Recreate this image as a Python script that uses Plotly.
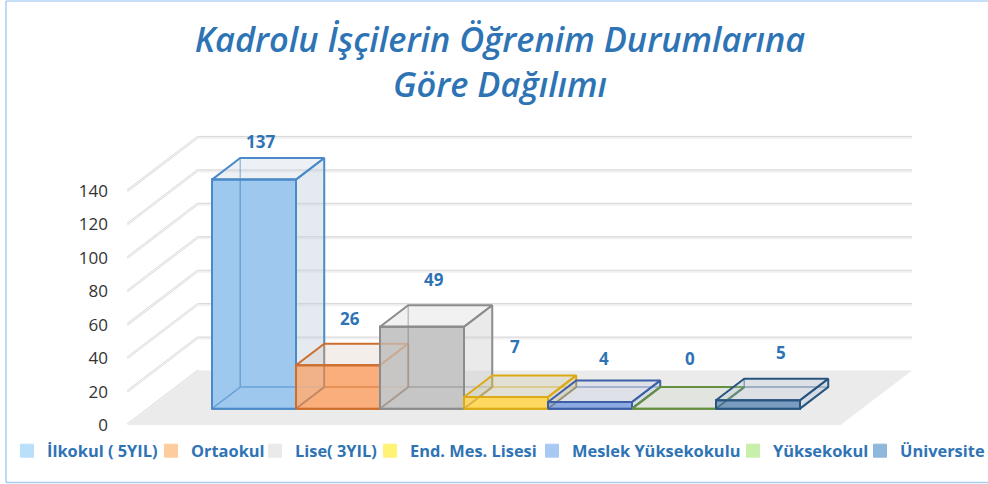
import plotly.graph_objects as go

# ---- data ----
categories = ["İlkokul ( 5YIL)", "Ortaokul", "Lise( 3YIL)", "End. Mes. Lisesi",
              "Meslek Yüksekokulu", "Yüksekokul", "Üniversite"]
values = [137, 26, 49, 7, 4, 0, 5]
y_ticks = [0, 20, 40, 60, 80, 100, 120, 140]

# ---- style ----
front_colors = ["#9fc8ef", "#f9ae7c", "#c6c6c6", "#ffd95f", "#8daae1", "#e2e6de", "#7b9cc0"]
front_rgb = ["159,200,239", "249,174,124", "198,198,198", "255,217,95",
             "141,170,225", "226,230,222", "123,156,192"]
edge_colors = ["#4a8ac8", "#cd6e2d", "#8c8c8c", "#dcaa14", "#3c5fa5", "#64913f", "#28557f"]
legend_colors = ["#b8e0fb", "#fdcb9d", "#eaeaea", "#fff275", "#a9c9f5", "#c8f0aa", "#8fb8dd"]
face_rgb = ["190,205,220", "215,195,180", "205,205,205", "205,195,150",
            "190,200,225", "205,215,195", "185,200,220"]
title_blue = "#2e74b5"
text_left = [47, 191, 295, 410, 572, 773, 900]      # legend text start, px
label_dx = [-22, -16, -16, -19, -14, -12, -5]       # data-label nudge, px
label_dy = [17, 25, 26, 29, 22, 29, 26]             # data-label lift, px

W, H = 988, 484
PX_L, PX_R, PX_T, PX_B = 127, 912, 125, 425
PX_PER_CAT = 84.0
PX_PER_UNIT = 1.672
X0 = (PX_L - 254) / PX_PER_CAT
X1 = (PX_R - 254) / PX_PER_CAT
Y1 = (PX_B - PX_T) / PX_PER_UNIT
DX, DY = 71.5 / PX_PER_CAT, 54.5 / PX_PER_UNIT   # oblique vector of the floor depth
D_FRONT, D_BACK = 0.30, 0.695


def proj(x, v, d):
    """Oblique projection: bar x (at the bar front plane), value, depth."""
    return x + DX * (d - D_FRONT), v + DY * d


fig = go.Figure()
shapes = []


def seg(x0, y0, x1, y1, color, width):
    shapes.append(dict(type="line", xref="x", yref="y", layer="below", x0=x0, y0=y0, x1=x1, y1=y1,
                       line=dict(color=color, width=width)))


# walls' gridlines: a soft band with a thin line along its upper edge
BAND = 1.3 / PX_PER_UNIT
for t in y_ticks:
    seg(X0, t, X0 + DX, t + DY, "#dedede", 2.5)
    seg(X0, t, X0 + DX, t + DY, "#f6f6f6", 1)
    if t > 0:
        seg(X0 + DX, t + DY - BAND, X1, t + DY - BAND, "#f1f1f1", 2.5)
        seg(X0 + DX, t + DY, X1, t + DY, "#d6d6d6", 1)
# floor
shapes.append(dict(type="path", xref="x", yref="y", layer="below",
                   path=f"M{X0},0 L{X0 + DX},{DY} L{X1},{DY} L{X1 - DX},0 Z",
                   fillcolor="#ebebeb", line=dict(width=0)))

# front faces
fig.add_trace(go.Bar(x=list(range(len(values))), y=values, base=DY * D_FRONT, width=1,
                     marker=dict(color=front_colors, line=dict(color=edge_colors, width=2)),
                     showlegend=False, hoverinfo="skip"))

# depth faces
for i, v in enumerate(values):
    l, r = i - 0.5, i + 0.5
    rgb, edge = face_rgb[i], edge_colors[i]
    # translucent veil of this bar's front, so the previous bar's faces sit behind it
    if v > 0:
        pts = [proj(l, 0, D_FRONT), proj(r, 0, D_FRONT), proj(r, v, D_FRONT), proj(l, v, D_FRONT), proj(l, 0, D_FRONT)]
        fig.add_trace(go.Scatter(x=[p[0] for p in pts], y=[p[1] for p in pts], mode="lines", fill="toself",
                                 fillcolor=f"rgba({front_rgb[i]},0.7)", line=dict(color=edge, width=2),
                                 showlegend=False, hoverinfo="skip"))
    # hidden edges
    hx, hy = [], []
    for a, b in [((l, 0, D_FRONT), (l, 0, D_BACK)), ((r, 0, D_FRONT), (r, 0, D_BACK)),
                 ((l, 0, D_BACK), (r, 0, D_BACK)), ((l, 0, D_BACK), (l, v, D_BACK))]:
        pa, pb = proj(*a), proj(*b)
        hx += [pa[0], pb[0], None]
        hy += [pa[1], pb[1], None]
    fig.add_trace(go.Scatter(x=hx, y=hy, mode="lines", line=dict(color=edge, width=1.5),
                             opacity=0.6, showlegend=False, hoverinfo="skip"))
    # side face
    pts = [proj(r, 0, D_FRONT), proj(r, 0, D_BACK), proj(r, v, D_BACK), proj(r, v, D_FRONT), proj(r, 0, D_FRONT)]
    fig.add_trace(go.Scatter(x=[p[0] for p in pts], y=[p[1] for p in pts], mode="lines", fill="toself",
                             fillcolor=f"rgba({rgb},0.42)", line=dict(color=edge, width=2),
                             showlegend=False, hoverinfo="skip"))
    # top face
    pts = [proj(l, v, D_FRONT), proj(r, v, D_FRONT), proj(r, v, D_BACK), proj(l, v, D_BACK), proj(l, v, D_FRONT)]
    fig.add_trace(go.Scatter(x=[p[0] for p in pts], y=[p[1] for p in pts], mode="lines", fill="toself",
                             fillcolor=f"rgba({rgb},0.28)", line=dict(color=edge, width=2),
                             showlegend=False, hoverinfo="skip"))

# legend entries, each in its own legend so the spacing can follow the reference
layout_legends = {}
for i, name in enumerate(categories):
    key = "legend" if i == 0 else f"legend{i + 1}"
    fig.add_trace(go.Scatter(x=[None], y=[None], name=name, legend=key, mode="markers",
                             marker=dict(symbol="square", size=13, color=legend_colors[i],
                                         line=dict(color=legend_colors[i], width=1))))
    layout_legends[key] = dict(xref="paper", yref="paper",
                               x=(text_left[i] - 40 - PX_L) / (PX_R - PX_L),
                               y=(PX_B - 451) / (PX_B - PX_T),
                               xanchor="left", yanchor="middle",
                               bgcolor="rgba(0,0,0,0)", borderwidth=0,
                               font=dict(family="Open Sans", size=16.4, weight="bold", color=title_blue))

# data labels
annotations = []
for i, v in enumerate(values):
    px_, py_ = proj(i, v, D_BACK)
    annotations.append(dict(x=px_, y=py_, xref="x", yref="y", text=str(v), showarrow=False,
                            xshift=label_dx[i], yshift=label_dy[i], yanchor="middle",
                            font=dict(family="Open Sans", size=17, weight="bold", color=title_blue)))

# outer border
for x0, y0, x1, y1, c in [(6, 1, W, 1, "#b5d5f5"), (6, 1, 6, 482.5, "#a9cdf0"), (6, 482.5, W, 482.5, "#a9cdf0")]:
    shapes.append(dict(type="line", xref="paper", yref="paper", layer="below",
                       x0=(x0 - PX_L) / (PX_R - PX_L), x1=(x1 - PX_L) / (PX_R - PX_L),
                       y0=(PX_B - y0) / (PX_B - PX_T), y1=(PX_B - y1) / (PX_B - PX_T),
                       line=dict(color=c, width=1.5)))

fig.update_layout(
    width=W, height=H,
    margin=dict(l=PX_L, r=W - PX_R, t=PX_T, b=H - PX_B, pad=0, autoexpand=False),
    paper_bgcolor="white", plot_bgcolor="rgba(0,0,0,0)",
    barmode="overlay",
    title=dict(text="Kadrolu İşçilerin Öğrenim Durumlarına<br>Göre Dağılımı",
               x=500 / W, xanchor="center", y=1 - 52 / H, yanchor="top",
               font=dict(family="Open Sans", size=34.4, weight=600, style="italic", color=title_blue)),
    xaxis=dict(range=[X0, X1], visible=False, fixedrange=True),
    yaxis=dict(range=[0, Y1], tickvals=y_ticks, showgrid=False, zeroline=False, showline=False,
               ticks="", ticklabelstandoff=18, fixedrange=True,
               tickfont=dict(family="Open Sans", size=17, color="#333333")),
    shapes=shapes, annotations=annotations,
    **layout_legends,
)

fig.write_html("out.html", config={"displayModeBar": False},
               post_script="document.body.style.margin='0';")
